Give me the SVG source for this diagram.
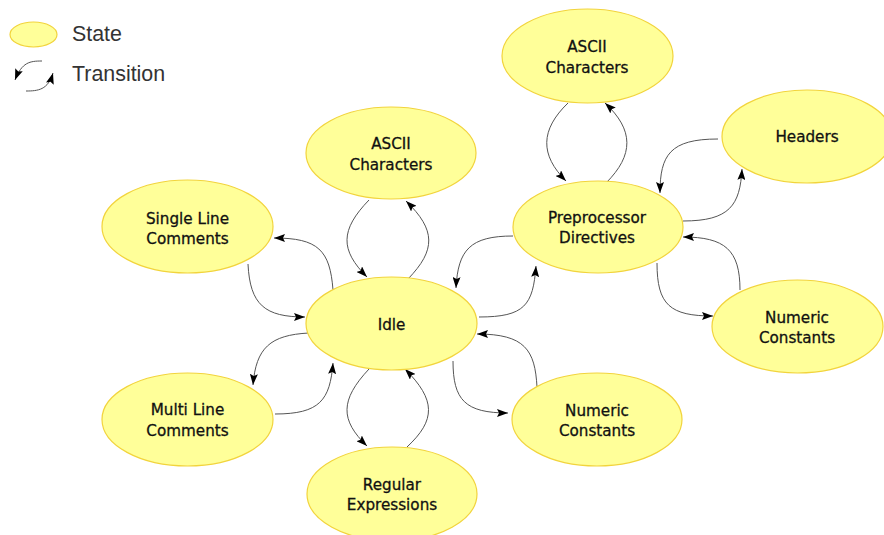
<svg xmlns="http://www.w3.org/2000/svg" width="884" height="535" viewBox="0 0 884 535">
<style>
.st{fill:#ffff99;stroke:#f2d43c;stroke-width:1.2}
.lb{font-family:"DejaVu Sans",sans-serif;font-size:15.2px;fill:#111111;stroke:#111111;stroke-width:0.3;text-anchor:middle}
.lg{font-family:"Liberation Sans",Arial,sans-serif;font-size:21.4px;fill:#333333}
.c{fill:none;stroke:#555555;stroke-width:1;marker-end:url(#ah)}
</style>
<defs>
<marker id="ah" viewBox="0 0 11 8" refX="11" refY="4" markerWidth="11" markerHeight="8" markerUnits="userSpaceOnUse" orient="auto">
<path d="M0,0 L11,4 L0,8 L2,4 z" fill="#000"/>
</marker>
</defs>
<rect width="884" height="535" fill="#ffffff"/>
<g id="legend">
<ellipse class="st" cx="33.5" cy="34.5" rx="23.5" ry="12.5"/>
<text class="lg" x="72" y="41">State</text>
<path class="c" d="M42,61 C30,61 22,62 15,80"/>
<path class="c" d="M26,91 C38,91 48,90 53,73"/>
<text class="lg" x="72" y="81">Transition</text>
</g>
<g id="connectors">
<path class="c" d="M369,200 C340,230 340,250 367,277"/>
<path class="c" d="M408,279 C436,250 436,230 406,201"/>
<path class="c" d="M333,290 C330,250 318,238 274,238"/>
<path class="c" d="M248,264 C250,305 265,317 305,317"/>
<path class="c" d="M309,333 C270,335 256,348 253,385"/>
<path class="c" d="M275,414 C320,414 330,400 333,363"/>
<path class="c" d="M369,369 C340,400 340,420 367,446"/>
<path class="c" d="M407,447 C436,420 436,400 405,369"/>
<path class="c" d="M453,361 C453,400 465,413 508,413"/>
<path class="c" d="M537,387 C535,350 525,334 477,334"/>
<path class="c" d="M513,236 C470,236 458,250 456,288"/>
<path class="c" d="M479,317 C525,317 533,305 536,266"/>
<path class="c" d="M568,103 C540,130 540,155 566,181"/>
<path class="c" d="M606,183 C634,155 634,130 605,103"/>
<path class="c" d="M718,139 C670,139 660,155 660,193"/>
<path class="c" d="M683,221 C730,221 740,205 742,169"/>
<path class="c" d="M657,263 C657,305 670,316 713,316"/>
<path class="c" d="M740,290 C740,250 725,237 683,237"/>
</g>
<g id="idle">
<ellipse class="st" cx="391.5" cy="323.5" rx="85.5" ry="46.5"/>
<text class="lb" x="391.5" y="329.5">Idle</text>
</g>
<g id="ascii-left">
<ellipse class="st" cx="391" cy="153" rx="85" ry="46"/>
<text class="lb" x="391" y="149">ASCII</text>
<text class="lb" x="391" y="170">Characters</text>
</g>
<g id="single-line">
<ellipse class="st" cx="187.5" cy="226.5" rx="85.5" ry="46.5"/>
<text class="lb" x="187.5" y="223.5">Single Line</text>
<text class="lb" x="187.5" y="244">Comments</text>
</g>
<g id="multi-line">
<ellipse class="st" cx="187.5" cy="419.5" rx="85.5" ry="46.5"/>
<text class="lb" x="187.5" y="415">Multi Line</text>
<text class="lb" x="187.5" y="436">Comments</text>
</g>
<g id="regex">
<ellipse class="st" cx="392" cy="494" rx="85" ry="47"/>
<text class="lb" x="392" y="490">Regular</text>
<text class="lb" x="392" y="510">Expressions</text>
</g>
<g id="numeric-bottom">
<ellipse class="st" cx="597" cy="419.5" rx="85" ry="46.5"/>
<text class="lb" x="597" y="415.5">Numeric</text>
<text class="lb" x="597" y="436">Constants</text>
</g>
<g id="preprocessor">
<ellipse class="st" cx="598" cy="227" rx="85" ry="46"/>
<text class="lb" x="597" y="223">Preprocessor</text>
<text class="lb" x="597" y="243">Directives</text>
</g>
<g id="ascii-top">
<ellipse class="st" cx="587.5" cy="56" rx="85.5" ry="47"/>
<text class="lb" x="587" y="52">ASCII</text>
<text class="lb" x="587" y="73">Characters</text>
</g>
<g id="headers">
<ellipse class="st" cx="807" cy="136.5" rx="85" ry="46.5"/>
<text class="lb" x="807" y="142">Headers</text>
</g>
<g id="numeric-right">
<ellipse class="st" cx="797.5" cy="326.5" rx="85.5" ry="46.5"/>
<text class="lb" x="797" y="323">Numeric</text>
<text class="lb" x="797" y="343">Constants</text>
</g>
</svg>
